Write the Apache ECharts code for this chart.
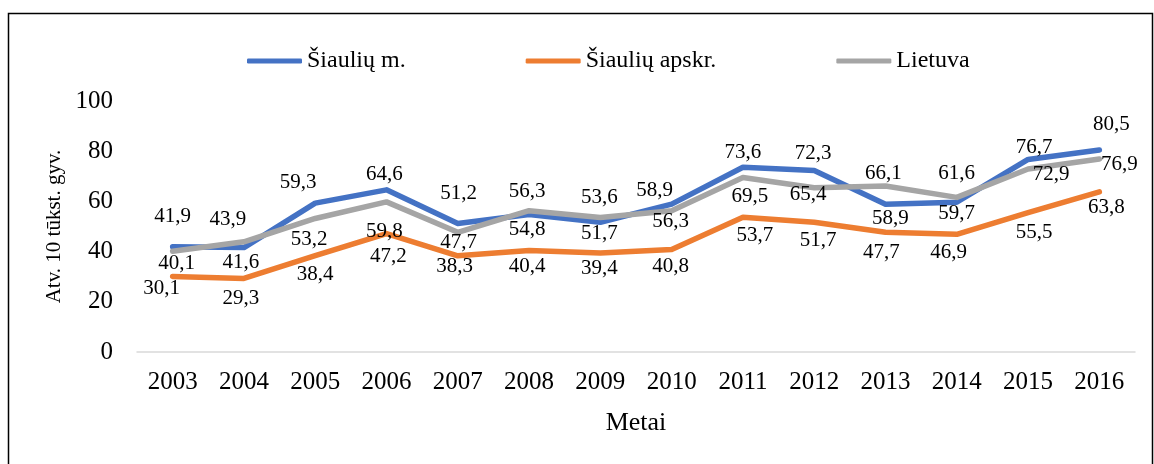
<!DOCTYPE html>
<html>
<head>
<meta charset="utf-8">
<script src="https://cdn.jsdelivr.net/npm/echarts@6/dist/echarts.min.js"></script>
<style>
  html, body { margin: 0; padding: 0; background: #fff; }
  #chart { width: 1154px; height: 464px; }
</style>
</head>
<body>
<div id="chart"></div>
<script>
var years = ['2003', '2004', '2005', '2006', '2007', '2008', '2009', '2010', '2011', '2012', '2013', '2014', '2015', '2016'];
var siauliuMiestas = [41.9, 41.6, 59.3, 64.6, 51.2, 54.8, 51.7, 58.9, 73.6, 72.3, 58.9, 59.7, 76.7, 80.5];
var siauliuApskritis = [30.1, 29.3, 38.4, 47.2, 38.3, 40.4, 39.4, 40.8, 53.7, 51.7, 47.7, 46.9, 55.5, 63.8];
var lietuva = [40.1, 43.9, 53.2, 59.8, 47.7, 56.3, 53.6, 56.3, 69.5, 65.4, 66.1, 61.6, 72.9, 76.9];
var seriesNames = ['Šiaulių m.', 'Šiaulių apskr.', 'Lietuva'];

// kur dedamos duomenų etiketės (poslinkis nuo taško centro)
var blueLabelShift = [[0,-30],[-3,15],[-17,-21],[-2,-15],[1,-30],[-2,15],[-1,11],[-17,-14],[0,-15],[-1,-17],[5,14],[0,11],[6,-12],[12,-25]];
var orangeLabelShift = [[-11,12],[-3,20],[0,19],[2,23],[-3,11],[-2,16],[-1,15],[-1,17],[12,18],[4,18],[-4,20],[-8,18],[6,20],[7,16]];
var greyLabelShift = [[4,12],[-16,-22],[-6,21],[-2,30],[1,10],[-2,-19],[-1,-20],[-1,11],[7,19],[-6,7],[-2,-13],[0,-24],[23,6],[20,6]];

var font = "'Liberation Serif', 'Times New Roman', serif";

function withLabels(values, shifts) {
  return values.map(function (v, i) {
    return {
      value: v,
      label: { position: shifts[i], align: 'center', verticalAlign: 'middle' }
    };
  });
}

function lineSeries(name, values, shifts, color) {
  return {
    name: name,
    type: 'line',
    data: withLabels(values, shifts),
    symbol: 'circle',
    symbolSize: 0.1,
    showSymbol: true,
    lineStyle: { color: color, width: 5.5, cap: 'round', join: 'round' },
    itemStyle: { color: color },
    label: {
      show: true,
      fontFamily: font,
      fontSize: 21,
      color: '#000',
      formatter: function (p) {
        return p.value.toFixed(1).replace('.', ',');
      }
    },
    labelLayout: { hideOverlap: false },
    emphasis: { disabled: true }
  };
}

var chart = echarts.init(document.getElementById('chart'));
chart.setOption({
  animation: false,
  textStyle: { fontFamily: font },
  graphic: [{
    type: 'rect',
    shape: { x: 8.5, y: 13.5, width: 1144, height: 470 },
    style: { fill: 'none', stroke: '#000', lineWidth: 1.5 },
    silent: true
  }],
  legend: {
    top: 44,
    left: 242,
    itemWidth: 55,
    itemHeight: 5,
    itemGap: 120,
    icon: 'roundRect',
    textStyle: { fontFamily: font, fontSize: 24, color: '#000' },
    data: seriesNames
  },
  grid: { left: 137, right: 19, top: 101, bottom: 112 },
  xAxis: {
    type: 'category',
    data: years,
    name: 'Metai',
    nameLocation: 'middle',
    nameGap: 58,
    nameTextStyle: { fontFamily: font, fontSize: 26, color: '#000' },
    axisLine: { lineStyle: { color: '#d9d9d9', width: 1.5 } },
    axisTick: { show: false },
    axisLabel: { fontFamily: font, fontSize: 25, color: '#000', margin: 18 }
  },
  yAxis: {
    type: 'value',
    min: 0,
    max: 100,
    interval: 20,
    name: 'Atv. 10 tūkst. gyv.',
    nameLocation: 'middle',
    nameGap: 70,
    nameTextStyle: { fontFamily: font, fontSize: 21, color: '#000' },
    splitLine: { show: false },
    axisLine: { show: false },
    axisTick: { show: false },
    axisLabel: { fontFamily: font, fontSize: 25, color: '#000', margin: 24 }
  },
  series: [
    lineSeries(seriesNames[0], siauliuMiestas, blueLabelShift, '#4472c4'),
    lineSeries(seriesNames[1], siauliuApskritis, orangeLabelShift, '#ed7d31'),
    lineSeries(seriesNames[2], lietuva, greyLabelShift, '#a5a5a5')
  ]
});
</script>
</body>
</html>
